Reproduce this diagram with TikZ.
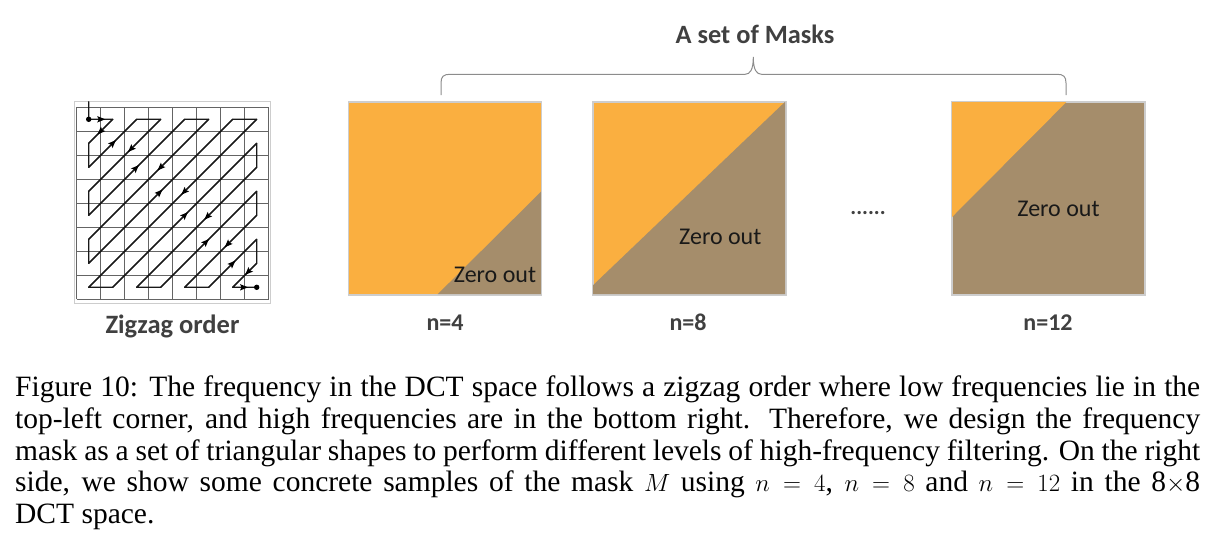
\documentclass[tikz,border=0pt]{standalone}
\usepackage{fontspec}
\setmainfont{Liberation Serif}
\newfontfamily\calibri{Carlito}
\usetikzlibrary{decorations.markings}
\definecolor{maskorange}{RGB}{250,175,64}
\definecolor{maskbrown}{RGB}{165,141,107}
\definecolor{labelgray}{RGB}{64,64,64}
\definecolor{gridgray}{RGB}{100,100,100}
\definecolor{framegray}{RGB}{205,205,205}
\definecolor{bracegray}{RGB}{140,140,140}
\newcommand{\capline}[1]{\makebox[1185pt][s]{#1}}
\begin{document}
\begin{tikzpicture}[x=1pt,y=-1pt,
  lbl/.style={font=\calibri\bfseries\fontsize{24}{28}\selectfont, text=labelgray, anchor=base, inner sep=0},
  zero/.style={font=\calibri\fontsize{24}{28}\selectfont, text=black!90, anchor=base, inner sep=0},
  zz/.style={line width=1.3pt, black!90, line join=round, line cap=round},
  mk/.style={postaction={decorate,decoration={markings,mark=at position #1 with {\fill[black] (4.5pt,0pt) -- (-3.5pt,3.2pt) -- (-2pt,0pt) -- (-3.5pt,-3.2pt) -- cycle;}}}},
  maskbox/.style={draw=framegray, line width=0.8pt, fill=#1, anchor=north west, inner sep=0, minimum width=192.5pt, minimum height=192.5pt},
]
\useasboundingbox (0,0) rectangle (1220,555);

% ---------- zigzag grid ----------
\draw[framegray, line width=0.8pt] (74.5,101.7) rectangle (270.7,303.3);
\foreach \i in {0,...,8} {
  \draw[gridgray, line width=0.9pt] (76.7+24*\i,107.3) -- (76.7+24*\i,299.3);
  \draw[gridgray, line width=0.9pt] (76.7,107.3+24*\i) -- (268.7,107.3+24*\i);
}
\foreach \i in {0,...,7} {
  \foreach \j in {0,...,7} {
    \coordinate (c\i\j) at (88.7+24*\i, 119.3+24*\j);
  }
}
\coordinate (zstart) at (88.7,101.7);
\draw[zz] (zstart) -- (c00) -- (c10) -- (c01) -- (c02) -- (c20) -- (c30) -- (c03) -- (c04) -- (c40)
  -- (c50) -- (c05) -- (c06) -- (c60) -- (c70) -- (c07) -- (c17) -- (c71) -- (c72) -- (c27)
  -- (c37) -- (c73) -- (c74) -- (c47) -- (c57) -- (c75) -- (c76) -- (c67) -- (c77);
\draw[zz, mk=0.5] (c00) -- (c10);
\draw[zz, mk=0.5] (c10) -- (c01);
\draw[zz, mk=0.5] (c02) -- (c20);
\draw[zz, mk=0.41] (c30) -- (c03);
\draw[zz, mk=0.49] (c04) -- (c40);
\draw[zz, mk=0.40] (c50) -- (c05);
\draw[zz, mk=0.49] (c06) -- (c60);
\draw[zz, mk=0.43] (c70) -- (c07);
\draw[zz, mk=0.5] (c17) -- (c71);
\draw[zz, mk=0.41] (c72) -- (c27);
\draw[zz, mk=0.47] (c37) -- (c73);
\draw[zz, mk=0.40] (c74) -- (c47);
\draw[zz, mk=0.49] (c57) -- (c75);
\draw[zz, mk=0.35] (c76) -- (c67);
\draw[zz, mk=0.45] (c67) -- (c77);
\fill[black] (c00) circle (2.7pt);
\fill[black] (c77) circle (2.7pt);
\node[lbl, font=\calibri\bfseries\fontsize{26.5}{30}\selectfont] (zzlabel) at (172.5,333) {Zigzag order};

% ---------- masks ----------
\node[maskbox=maskorange] (m1) at (348.3,101.7) {};
\fill[maskbrown] (541,191.7) -- (541,294.2) -- (437.7,294.2) -- cycle;
\draw[framegray, line width=0.8pt] (m1.north west) rectangle (m1.south east);
\node[zero] (z1) at (495,282.7) {Zero out};
\node[lbl] (n4) at (445,330) {n=4};

\node[maskbox=maskorange] (m2) at (592.7,101.7) {};
\fill[maskbrown] (785.2,101.7) -- (785.2,294.2) -- (592.7,294.2) -- (592.7,285.5) -- cycle;
\draw[framegray, line width=0.8pt] (m2.north west) rectangle (m2.south east);
\node[zero] (z2) at (720.3,244) {Zero out};
\node[lbl] (n8) at (688,330) {n=8};

\node[maskbox=maskbrown] (m3) at (951.7,101.7) {};
\fill[maskorange] (951.7,101.7) -- (1066.7,101.7) -- (951.7,217.3) -- cycle;
\draw[framegray, line width=0.8pt] (m3.north west) rectangle (m3.south east);
\node[zero] (z3) at (1058.5,216) {Zero out};
\node[lbl] (n12) at (1048,330) {n=12};

\node[font=\calibri\bfseries\fontsize{22}{26}\selectfont, text=labelgray, anchor=base, inner sep=0] (dots) at (868,214) {......};

% ---------- brace ----------
\coordinate (bl) at (441,95);
\coordinate (br) at (1066,95);
\coordinate (tip) at (753.3,57);
\draw[bracegray, line width=1pt] (bl) -- (441,83) .. controls (441,76.5) and (443.5,74.3) .. (450,74.3)
  -- (745,74.3) .. controls (750,74.3) and (753.3,70) .. (tip)
  .. controls (753.3,70) and (756.6,74.3) .. (761.6,74.3)
  -- (1057,74.3) .. controls (1063.5,74.3) and (1066,76.5) .. (1066,83) -- (br);
\node[lbl, font=\calibri\bfseries\fontsize{26.4}{30}\selectfont] (title) at (755,43.3) {A set of Masks};

% ---------- caption ----------
\node[anchor=base west, inner sep=0] (caption) at (15,396.7) {\parbox[t]{1185pt}{\fontsize{29.5}{31.65}\selectfont
\capline{Figure 10: The frequency in the DCT space follows a zigzag order where low frequencies lie in the}\\
\capline{top-left corner, and high frequencies are in the bottom right. Therefore, we design the frequency}\\
\capline{mask as a set of triangular shapes to perform different levels of high-frequency filtering. On the right}\\
\capline{side, we show some concrete samples of the mask $M$ using $n=4$, $n=8$ and $n=12$ in the 8$\times$8}\\
DCT space.}};
\end{tikzpicture}
\end{document}
